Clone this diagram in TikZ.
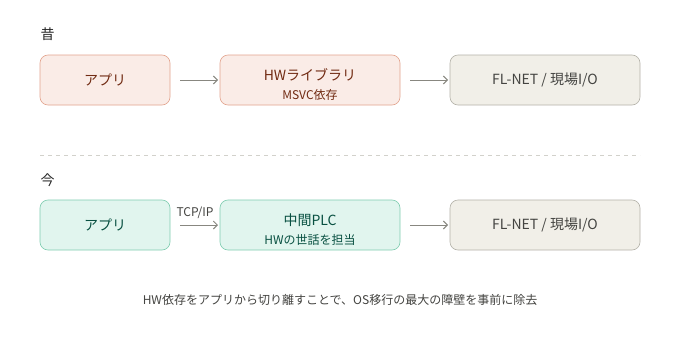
\documentclass[tikz,border=0pt]{standalone}
\usepackage{fontspec}
\setmainfont{Noto Sans CJK JP}
\usetikzlibrary{arrows.meta}
\definecolor{cfill}{HTML}{FAECE7}
\definecolor{cstroke}{HTML}{E3A48E}
\definecolor{ctext}{HTML}{712B13}
\definecolor{tfill}{HTML}{E1F5EE}
\definecolor{tstroke}{HTML}{7FCDB0}
\definecolor{ttext}{HTML}{085041}
\definecolor{gfill}{HTML}{F1EFE8}
\definecolor{gstroke}{HTML}{B4B2A9}
\definecolor{gtext}{HTML}{444441}
\definecolor{arr}{HTML}{888780}
\tikzset{
  x=1pt,y=-1pt,
  boxbase/.style={draw, line width=0.6pt, rounded corners=8pt, minimum height=50pt, inner sep=0pt},
  coral/.style={boxbase, fill=cfill, draw=cstroke, text=ctext},
  teal/.style={boxbase, fill=tfill, draw=tstroke, text=ttext},
  grayb/.style={boxbase, fill=gfill, draw=gstroke, text=gtext},
  conn/.style={draw=arr, line width=1pt, -{Straight Barb[length=4pt,width=8pt]}},
  ttl/.style={font=\fontsize{14pt}{16pt}\selectfont, text=black!85, anchor=west},
  mainlbl/.style={font=\fontsize{14pt}{16pt}\selectfont},
  sublbl/.style={font=\fontsize{12pt}{14pt}\selectfont},
}
\begin{document}
\begin{tikzpicture}
\path[use as bounding box] (0,0) rectangle (680,340);
\fill[white] (0,0) rectangle (680,340);

\node[ttl] (t1) at (37,34) {昔};
\node[ttl] (t2) at (37,180) {今};

% row 1
\node[coral, minimum width=130pt] (a1) at (105,80) {};
\node[mainlbl, text=ctext] (a1l) at (105,80) {アプリ};
\node[coral, minimum width=180pt] (b1) at (310,80) {};
\node[mainlbl, text=ctext] (b1l) at (310,75) {HWライブラリ};
\node[sublbl, text=ctext] (b1s) at (310,95) {MSVC依存};
\node[grayb, minimum width=190pt] (c1) at (545,80) {};
\node[mainlbl, text=gtext] (c1l) at (545,80) {FL-NET / 現場I/O};
\coordinate (p1s) at (180,80);
\coordinate (p1e) at (218,80);
\coordinate (p2s) at (410,80);
\coordinate (p2e) at (448,80);
\draw[conn] (p1s) -- (p1e);
\draw[conn] (p2s) -- (p2e);

% separator
\coordinate (s1) at (40,155);
\coordinate (s2) at (640,155);
\draw[gstroke!60, line width=0.8pt, dash pattern=on 4pt off 4pt] (s1) -- (s2);

% row 2
\node[teal, minimum width=130pt] (a2) at (105,225) {};
\node[mainlbl, text=ttext] (a2l) at (105,225) {アプリ};
\node[teal, minimum width=180pt] (b2) at (310,225) {};
\node[mainlbl, text=ttext] (b2l) at (310,220) {中間PLC};
\node[sublbl, text=ttext] (b2s) at (310,240) {HWの世話を担当};
\node[grayb, minimum width=190pt] (c2) at (545,225) {};
\node[mainlbl, text=gtext] (c2l) at (545,225) {FL-NET / 現場I/O};
\coordinate (q1s) at (180,225);
\coordinate (q1e) at (218,225);
\coordinate (q2s) at (410,225);
\coordinate (q2e) at (448,225);
\draw[conn] (q1s) -- (q1e);
\node[sublbl, text=gtext] (tcp) at (195,213) {TCP/IP};
\draw[conn] (q2s) -- (q2e);

\node[sublbl, text=gtext] (cap) at (340,300) {HW依存をアプリから切り離すことで、OS移行の最大の障壁を事前に除去};
\end{tikzpicture}
\end{document}
